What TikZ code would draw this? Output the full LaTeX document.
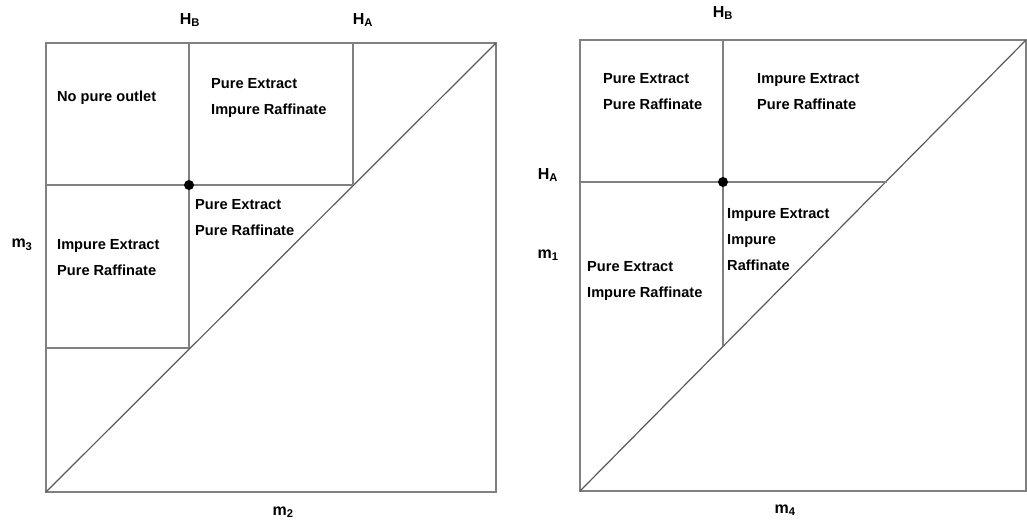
\documentclass[tikz,border=0pt]{standalone}
\usepackage{fontspec}
\setmainfont{Liberation Sans}
\usetikzlibrary{positioning,calc}
\newcommand{\regfont}{\bfseries\fontsize{14.6}{26}\selectfont}
\newcommand{\axfont}{\bfseries\fontsize{16}{18}\selectfont}
\begin{document}
\begin{tikzpicture}
[x=1pt,y=-1pt,
region/.style={font=\regfont,align=left,anchor=west,inner sep=0pt},
axlabel/.style={font=\axfont,inner sep=0pt},
gridline/.style={draw=black!50,line width=1.4pt},
diagline/.style={draw=black!65,line width=1.2pt},
opdot/.style={circle,fill=black,inner sep=0pt,minimum size=10pt}]
\useasboundingbox (0,0) rectangle (1027,523);
%%
% left diagram: m2 / m3 plane
%%
\coordinate (LSW) at (46,492);
\coordinate (LNE) at (496,43);
\coordinate (LHB) at (189,43);
\coordinate (LHA) at (353,43);
\coordinate (Lmid) at (46,185);
\coordinate (Llow) at (46,348);
\draw[gridline] (LSW) rectangle (LNE);
\draw[diagline] (LSW) -- (LNE);
\draw[gridline] (LHB) -- (LHB|-Llow);
\draw[gridline] (LHA) -- (LHA|-Lmid);
\draw[gridline] (Lmid) -- (LHA|-Lmid);
\draw[gridline] (Llow) -- (LHB|-Llow);
\node[opdot] (Lopt) at (LHB|-Lmid) {};
%% axis labels
\node[axlabel] (LlabHB) at (190,20) {H\textsubscript{B}};
\node[axlabel] (LlabHA) at (363,20) {H\textsubscript{A}};
\node[axlabel] (Llabm3) at (22,245) {m\textsubscript{3}};
\node[axlabel] (Llabm2) at (283,512) {m\textsubscript{2}};
%% regions
\node[region] (Lnone) at (57,98) {No pure outlet};
\node[region] (LpeIr) at (211,98) {Pure Extract\\Impure Raffinate};
\node[region] (LpePr) at (195,218) {Pure Extract\\Pure Raffinate};
\node[region] (LiePr) at (57,258) {Impure Extract\\Pure Raffinate};
%%
% right diagram: m4 / m1 plane
%%
\coordinate (RSW) at (580,491);
\coordinate (RNE) at (1026,40);
\coordinate (RHB) at (723,40);
\coordinate (Rmid) at (580,182);
\coordinate (Rlow) at (580,346);
\coordinate (RHAend) at (887,182);
\draw[gridline] (RSW) rectangle (RNE);
\draw[diagline] (RSW) -- (RNE);
\draw[gridline] (RHB) -- (RHB|-Rlow);
\draw[gridline] (Rmid) -- (RHAend);
\node[opdot] (Ropt) at (RHB|-Rmid) {};
%% axis labels
\node[axlabel] (RlabHB) at (723,13) {H\textsubscript{B}};
\node[axlabel] (RlabHA) at (548,175) {H\textsubscript{A}};
\node[axlabel] (Rlabm1) at (548,255) {m\textsubscript{1}};
\node[axlabel] (Rlabm4) at (785,510) {m\textsubscript{4}};
%% regions
\node[region] (RpePr) at (603,92) {Pure Extract\\Pure Raffinate};
\node[region] (RiePr) at (757,92) {Impure Extract\\Pure Raffinate};
\node[region] (RieIr) at (727,240) {Impure Extract\\Impure\\Raffinate};
\node[region] (RpeIr) at (587,281) {Pure Extract\\Impure Raffinate};
\end{tikzpicture}
\end{document}
